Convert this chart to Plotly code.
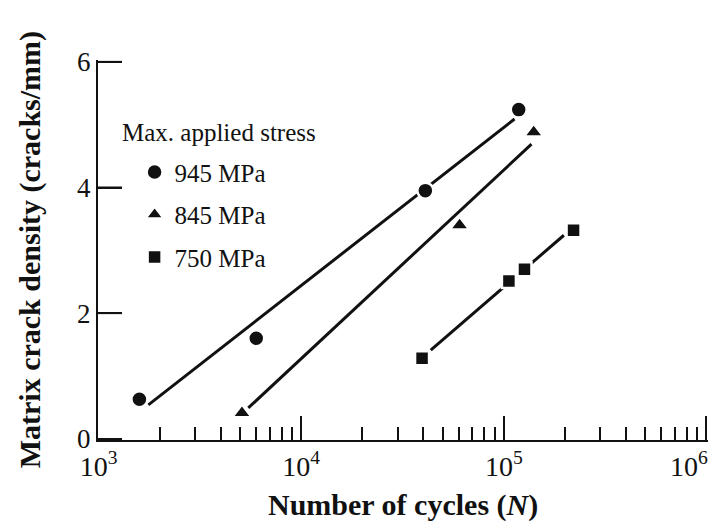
import plotly.graph_objects as go

# ---- data ----
series_names = ["945 MPa", "845 MPa", "750 MPa"]

cycles_945 = [1590, 6000, 41000, 118500]
density_945 = [0.63, 1.60, 3.95, 5.24]

cycles_845 = [5100, 60500, 140500]
density_845 = [0.41, 3.40, 4.88]

cycles_750 = [39500, 106000, 126500, 221000]
density_750 = [1.28, 2.51, 2.70, 3.32]

# fitted lines (end points as drawn)
fit_945_x = [1760, 113000]
fit_945_y = [0.54, 5.09]
fit_845_x = [5480, 137000]
fit_845_y = [0.49, 4.69]
fit_750_x = [43600, 198000]
fit_750_y = [1.41, 3.24]

x_tick_vals = [1e3, 1e4, 1e5, 1e6]
x_tick_text = ["10<sup>3</sup>", "10<sup>4</sup>", "10<sup>5</sup>",
               "10<sup>6</sup>\u00a0\u00a0\u00a0\u00a0\u00a0"]
x_minor_vals = [m * 10 ** e for e in (3, 4, 5) for m in range(2, 10)]
y_tick_vals = [0, 2, 4, 6]

legend_title = "Max. applied stress"

INK = "#111111"
FONT = "Liberation Serif"

X_RANGE = [2.997, 6.008]
Y_RANGE = [-0.02, 6.03]
PLOT_W = 610
TICK_PX = 24

fig = go.Figure()

for fx, fy in [(fit_945_x, fit_945_y), (fit_845_x, fit_845_y), (fit_750_x, fit_750_y)]:
    fig.add_trace(go.Scatter(x=fx, y=fy, mode="lines",
                             line=dict(color=INK, width=3), showlegend=False,
                             hoverinfo="skip"))

point_sets = [
    (cycles_945, density_945, "circle", 16),
    (cycles_845, density_845, "triangle-up", 17),
    (cycles_750, density_750, "square", 14),
]
for i, (xs, ys, sym, sz) in enumerate(point_sets):
    fig.add_trace(go.Scatter(x=xs, y=ys, mode="markers", name=series_names[i],
                             legendgroup=series_names[i],
                             marker=dict(symbol=sym, size=sz, color=INK,
                                         line=dict(color="white", width=2.5))))

# inward major ticks on the y axis, built from the tick values
tick_x0 = 10 ** X_RANGE[0]
tick_x1 = 10 ** (X_RANGE[0] + TICK_PX * (X_RANGE[1] - X_RANGE[0]) / PLOT_W)
tx, ty = [], []
for v in y_tick_vals[1:]:
    tx += [tick_x0, tick_x1, None]
    ty += [v, v, None]
fig.add_trace(go.Scatter(x=tx, y=ty, mode="lines", line=dict(color=INK, width=2),
                         showlegend=False, hoverinfo="skip", cliponaxis=False))

# page body keeps its default 8px margin, so the figure is 8px smaller
fig.update_layout(
    width=715, height=520,
    margin=dict(l=90, r=15, t=52, b=88),
    paper_bgcolor="white", plot_bgcolor="white",
    font=dict(family=FONT, color=INK, size=24),
    showlegend=True,
    legend=dict(
        font=dict(family=FONT, size=25, color=INK),
        x=0.06, y=0.765, xanchor="left", yanchor="top",
        bgcolor="rgba(0,0,0,0)", borderwidth=0,
        traceorder="grouped", tracegroupgap=7,
    ),
    xaxis=dict(
        type="log", range=X_RANGE, automargin=False,
        showline=True, linecolor=INK, linewidth=2,
        showgrid=False, zeroline=False,
        tickmode="array", tickvals=x_tick_vals, ticktext=x_tick_text,
        ticks="inside", ticklen=24, tickwidth=2, tickcolor=INK,
        ticklabeloverflow="allow",
        tickfont=dict(family=FONT, size=28, color=INK),
        minor=dict(tickmode="array", tickvals=x_minor_vals, ticks="inside",
                   ticklen=13, tickwidth=2, tickcolor=INK, showgrid=False),
    ),
    yaxis=dict(
        range=Y_RANGE, automargin=False,
        showline=True, linecolor=INK, linewidth=2,
        showgrid=False, zeroline=False,
        tickmode="array", tickvals=y_tick_vals,
        ticks="inside", ticklen=24, tickwidth=2, tickcolor=INK,
        ticklabeloverflow="allow",
        tickfont=dict(family=FONT, size=27, color=INK),
    ),
    annotations=[
        dict(text=legend_title, xref="paper", yref="paper",
             x=0.036, y=0.81, xanchor="left",
             yanchor="middle", showarrow=False,
             font=dict(family=FONT, size=25, color=INK)),
        dict(text="<b>Matrix crack density (cracks/mm)</b>", textangle=-90,
             xref="paper", yref="paper", x=-0.111, y=0.5, xanchor="center",
             yanchor="middle", showarrow=False, font=dict(family=FONT, size=30, color=INK)),
        dict(text="<b>Number of cycles (<i>N</i>)</b>",
             xref="paper", yref="paper", x=0.5, y=-0.171, xanchor="center",
             yanchor="middle", showarrow=False, font=dict(family=FONT, size=30, color=INK)),
    ],
)

fig.write_html("out.html", config={"displayModeBar": False})
